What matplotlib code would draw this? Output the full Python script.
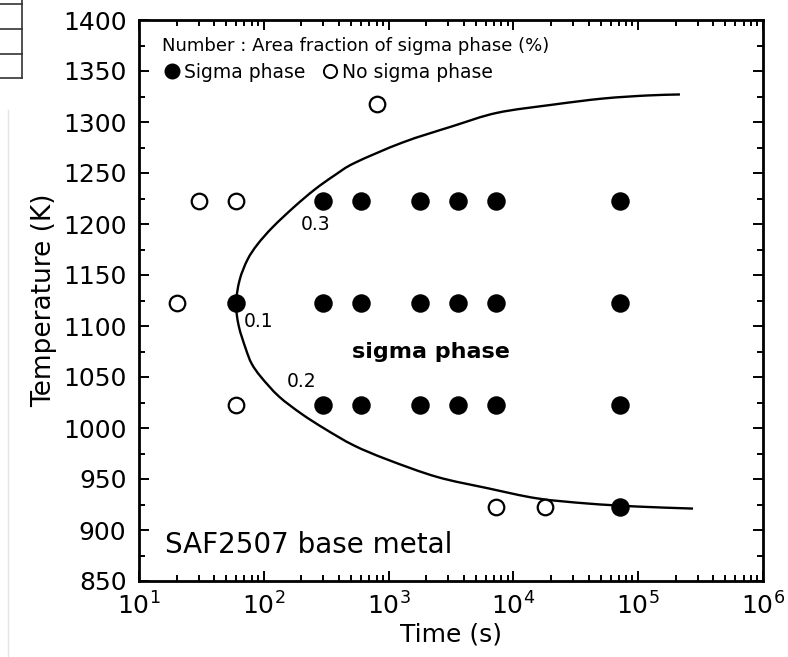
import matplotlib
matplotlib.use("Agg")
import matplotlib.pyplot as plt
import numpy as np
from matplotlib.ticker import MultipleLocator, LogLocator, NullFormatter
from matplotlib.lines import Line2D
from matplotlib.path import Path
from matplotlib.patches import PathPatch

plt.rcParams['font.family'] = ['DejaVu Sans']
plt.rcParams['mathtext.fontset'] = 'dejavusans'

# ---- data ----
sigma_time = [60, 300, 600, 1800, 3600, 7200, 72000,
              300, 600, 1800, 3600, 7200, 72000,
              300, 600, 1800, 3600, 7200, 72000,
              72000]
sigma_temp = [1123, 1123, 1123, 1123, 1123, 1123, 1123,
              1223, 1223, 1223, 1223, 1223, 1223,
              1023, 1023, 1023, 1023, 1023, 1023,
              923]

nosigma_time = [20, 30, 60, 60, 800, 7200, 18000]
nosigma_temp = [1123, 1223, 1223, 1023, 1318, 923, 923]

# boundary curve of sigma-phase region
curve_time = [275000, 98000, 39000, 15500, 6200, 2450, 980, 525, 310, 200,
              132, 95, 80, 72, 63, 60, 64, 74, 89, 118, 176, 257, 372, 537,
              1300, 3280, 7400, 20700, 52200, 118000, 216000]
curve_temp = [921, 923, 926, 931, 941, 952, 969, 983, 999, 1014,
              1031, 1050, 1063, 1077, 1100, 1122, 1145, 1165, 1180, 1197, 1217,
              1234, 1248, 1260, 1280, 1296, 1309, 1317, 1323, 1326, 1327]

fraction_labels = ['0.3', '0.1', '0.2']
fraction_time = [262, 90, 202]
fraction_temp = [1200, 1104, 1046]

# ---- figure ----
fig = plt.figure(figsize=(7.88, 6.57), dpi=100)
ax = fig.add_axes([139/788, 1-581/657, 624/788, 561/657])

# smooth drawing of the boundary through the read points (Catmull-Rom -> Bezier in log-time space)
lx = np.log10(curve_time)
ty = np.array(curve_temp, dtype=float)
P = np.column_stack([lx, ty])
Pe = np.vstack([2*P[0]-P[1], P, 2*P[-1]-P[-2]])
verts = [P[0]]
codes = [Path.MOVETO]
for i in range(1, len(Pe)-2):
    p0, p1, p2, p3 = Pe[i-1], Pe[i], Pe[i+1], Pe[i+2]
    c1 = p1 + (p2 - p0)/6.0
    c2 = p2 - (p3 - p1)/6.0
    verts += [c1, c2, p2]
    codes += [Path.CURVE4]*3
verts = np.array(verts)
verts[:, 0] = 10**verts[:, 0]
ax.add_patch(PathPatch(Path(verts, codes), fill=False, lw=1.7, edgecolor='black', zorder=2))

ax.plot(sigma_time, sigma_temp, 'o', ms=12.3, color='black', zorder=3)
ax.plot(nosigma_time, nosigma_temp, 'o', ms=11.2, mfc='white', mec='black', mew=1.6, zorder=3)

ax.set_xscale('log')
ax.set_xlim(10, 1e6)
ax.set_ylim(850, 1400)
ax.yaxis.set_major_locator(MultipleLocator(50))
ax.yaxis.set_minor_locator(MultipleLocator(25))
ax.xaxis.set_major_locator(LogLocator(base=10, numticks=10))
ax.xaxis.set_minor_locator(LogLocator(base=10, subs=range(2, 10), numticks=20))
ax.xaxis.set_minor_formatter(NullFormatter())

ax.tick_params(which='both', direction='in', top=True, right=True, width=1.4, colors='black')
ax.tick_params(which='major', length=7.5, labelsize=18)
ax.tick_params(axis='y', which='major', pad=9)
ax.tick_params(axis='x', which='major', pad=8)
ax.tick_params(which='minor', length=4)
for s in ax.spines.values():
    s.set_linewidth(2)

ax.set_xlabel('Time (s)', fontsize=18, labelpad=2)
ax.set_ylabel('Temperature (K)', fontsize=19, labelpad=4)

# annotations
for lab, t, T in zip(fraction_labels, fraction_time, fraction_temp):
    ax.text(t, T, lab, fontsize=13.5, ha='center', va='center')
ax.text(0.468, 0.409, 'sigma phase', transform=ax.transAxes, fontsize=16,
        fontweight='bold', ha='center', va='center')
ax.text(0.042, 0.064, 'SAF2507 base metal', transform=ax.transAxes, fontsize=20,
        ha='left', va='center')

ax.text(0.037, 0.953, 'Number : Area fraction of sigma phase (%)', transform=ax.transAxes,
        fontsize=13, ha='left', va='center')
ax.plot([0.053], [0.909], 'o', ms=10.5, color='black', transform=ax.transAxes, clip_on=False)
ax.text(0.072, 0.907, 'Sigma phase', transform=ax.transAxes, fontsize=13.5, ha='left', va='center')
ax.plot([0.306], [0.909], 'o', ms=9.5, mfc='white', mec='black', mew=1.4,
        transform=ax.transAxes, clip_on=False)
ax.text(0.325, 0.907, 'No sigma phase', transform=ax.transAxes, fontsize=13.5, ha='left', va='center')

# cropped table fragment and faint scan edge at the left of the scan
for yy in [4, 29, 54, 78]:
    fig.add_artist(Line2D([0, 22/788], [1-yy/657, 1-yy/657], color='#333333', lw=1.2))
fig.add_artist(Line2D([22/788, 22/788], [1-0/657, 1-78/657], color='#333333', lw=1.2))
fig.add_artist(Line2D([8/788, 8/788], [1-110/657, 0], color='#e4e4e4', lw=1.0))

fig.savefig('out.png', dpi=100)
